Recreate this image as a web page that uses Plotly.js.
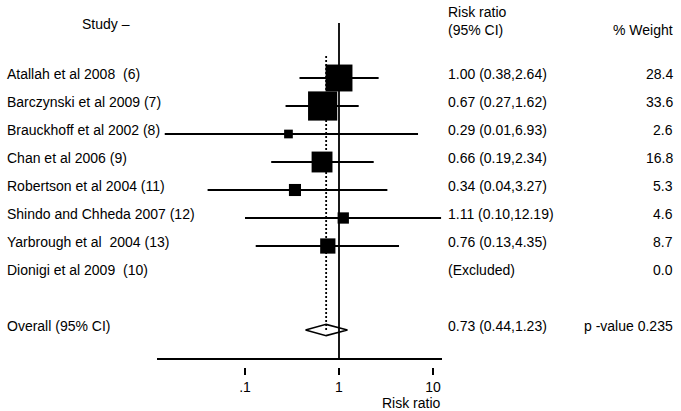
<!DOCTYPE html>
<html>
<head>
<meta charset="utf-8">
<script src="https://cdn.plot.ly/plotly-3.0.1.min.js"></script>
<style>html,body{margin:0;padding:0;background:#fff;}#chart{width:681px;height:411px;}</style>
</head>
<body>
<div id="chart"></div>
<script>
// ---- data ----
const studies = [
  "Atallah et al 2008  (6)",
  "Barczynski et al 2009 (7)",
  "Brauckhoff et al 2002 (8)",
  "Chan et al 2006 (9)",
  "Robertson et al 2004 (11)",
  "Shindo and Chheda 2007 (12)",
  "Yarbrough et al  2004 (13)",
  "Dionigi et al 2009  (10)"
];
const riskRatio = [1.00, 0.67, 0.29, 0.66, 0.34, 1.11, 0.76, null];
const ciLower   = [0.38, 0.27, 0.014, 0.19, 0.04, 0.10, 0.13, null];
const ciUpper   = [2.64, 1.62, 6.93, 2.34, 3.27, 12.19, 4.35, null];
const weights   = [28.4, 33.6, 2.6, 16.8, 5.3, 4.6, 8.7, 0.0];
const overallLabel = "Overall (95% CI)";
const overallRR = 0.73, overallLower = 0.44, overallUpper = 1.23;
const pValue = 0.235;
const tickVals = [0.1, 1, 10];
const tickText = [".1", "1", "10"];

// ---- layout helpers (pixel geometry) ----
const W = 681, H = 411;
const PL = 157, PR = 442, PT = 23, PB = 367;     // plot area in px
const rowTop = 78, rowStep = 28;                  // row 0 centre, spacing
const X1 = 339, DEC = 94;                         // px of RR=1, px per decade
const yAt = px => (px - rowTop) / rowStep;        // px -> row units
const xPaper = px => (px - PL) / (PR - PL);
const yPaper = px => (PB - px) / (PB - PT);
const FONT = "Liberation Sans, Arial, sans-serif";
const overallRow = studies.length + 1;
const axisLineRow = yAt(359);

const traces = [];
// whiskers
const wx = [], wy = [];
studies.forEach((s, i) => {
  if (riskRatio[i] === null) return;
  wx.push(ciLower[i], ciUpper[i], null);
  wy.push(i, i, null);
});
traces.push({x: wx, y: wy, mode: 'lines', type: 'scatter',
  line: {color: '#000', width: 1.8}, hoverinfo: 'skip', showlegend: false});
// boxes (area proportional to weight)
const bx = [], by = [], bs = [];
studies.forEach((s, i) => {
  if (riskRatio[i] === null) return;
  bx.push(riskRatio[i]); by.push(i); bs.push(4.9 * Math.sqrt(weights[i]) + 0.8);
});
traces.push({x: bx, y: by, mode: 'markers', type: 'scatter', opacity: 1,
  marker: {symbol: 'square', color: '#000', opacity: 1, size: bs, line: {width: 0}},
  hoverinfo: 'skip', showlegend: false});
// overall diamond
const dh = 0.2;
traces.push({x: [overallLower, overallRR, overallUpper, overallRR, overallLower],
  y: [overallRow, overallRow - dh, overallRow, overallRow + dh, overallRow],
  mode: 'lines', type: 'scatter', fill: 'toself', fillcolor: '#fff',
  line: {color: '#000', width: 1.5}, hoverinfo: 'skip', showlegend: false});
// dotted overall line
traces.push({x: [overallRR, overallRR], y: [yAt(56), overallRow],
  mode: 'lines', type: 'scatter', line: {color: '#000', width: 1.8, dash: '2px,2px'},
  hoverinfo: 'skip', showlegend: false});

const ann = [];
const txt = (text, x, y, xanchor, yref, extra) => Object.assign({
  text, x, y, xref: 'paper', yref: yref || 'y', xanchor: xanchor || 'left', yanchor: 'middle',
  showarrow: false, font: {family: FONT, size: 14, color: '#000'}
}, extra || {});

studies.forEach((s, i) => {
  ann.push(txt(s, xPaper(5), i, 'left', 'y', {yshift: 4}));
  const rrTxt = riskRatio[i] === null ? "(Excluded)" :
    riskRatio[i].toFixed(2) + " (" + ciLower[i].toFixed(2) + "," + ciUpper[i].toFixed(2) + ")";
  ann.push(txt(rrTxt, xPaper(446), i, 'left', 'y', {yshift: 4}));
  ann.push(txt(weights[i].toFixed(1), xPaper(675), i, 'right', 'y', {yshift: 4}));
});
ann.push(txt(overallLabel, xPaper(5), overallRow, 'left', 'y', {yshift: 4}));
ann.push(txt(overallRR.toFixed(2) + " (" + overallLower.toFixed(2) + "," + overallUpper.toFixed(2) + ")",
  xPaper(446), overallRow, 'left', 'y', {yshift: 4}));
ann.push(txt("p -value " + pValue.toFixed(3), xPaper(675), overallRow, 'right', 'y', {yshift: 4}));
// headers
ann.push(txt("Study \u2013", xPaper(80), yPaper(24), 'left', 'paper'));
ann.push(txt("Risk ratio", xPaper(446), yPaper(12), 'left', 'paper'));
ann.push(txt("(95% CI)", xPaper(446), yPaper(30), 'left', 'paper'));
ann.push(txt("% Weight", xPaper(675), yPaper(30), 'right', 'paper'));
ann.push(txt("Risk ratio", xPaper(443), yPaper(403), 'right', 'paper'));

const layout = {
  width: W, height: H,
  margin: {l: PL, r: W - PR, t: PT, b: H - PB, pad: 0},
  paper_bgcolor: '#fff', plot_bgcolor: '#fff',
  showlegend: false,
  xaxis: {type: 'log', range: [(PL - X1) / DEC, (PR - X1) / DEC],
    tickvals: tickVals, ticktext: tickText, ticks: 'outside', ticklen: 7, tickwidth: 1.3,
    tickcolor: '#000', showline: false, showgrid: false, zeroline: false,
    tickfont: {family: FONT, size: 14, color: '#000'}, fixedrange: true},
  yaxis: {range: [yAt(PB), yAt(PT)], visible: false, showgrid: false, zeroline: false, fixedrange: true},
  shapes: [
    {type: 'line', xref: 'x', yref: 'y', x0: 1, x1: 1, y0: yAt(PT), y1: axisLineRow,
      line: {color: '#000', width: 1.8}},
    {type: 'line', xref: 'paper', yref: 'y', x0: 0, x1: 1, y0: axisLineRow, y1: axisLineRow,
      line: {color: '#000', width: 1.8}}
  ],
  annotations: ann
};

Plotly.newPlot('chart', traces, layout, {staticPlot: true, displayModeBar: false});
</script>
</body>
</html>
